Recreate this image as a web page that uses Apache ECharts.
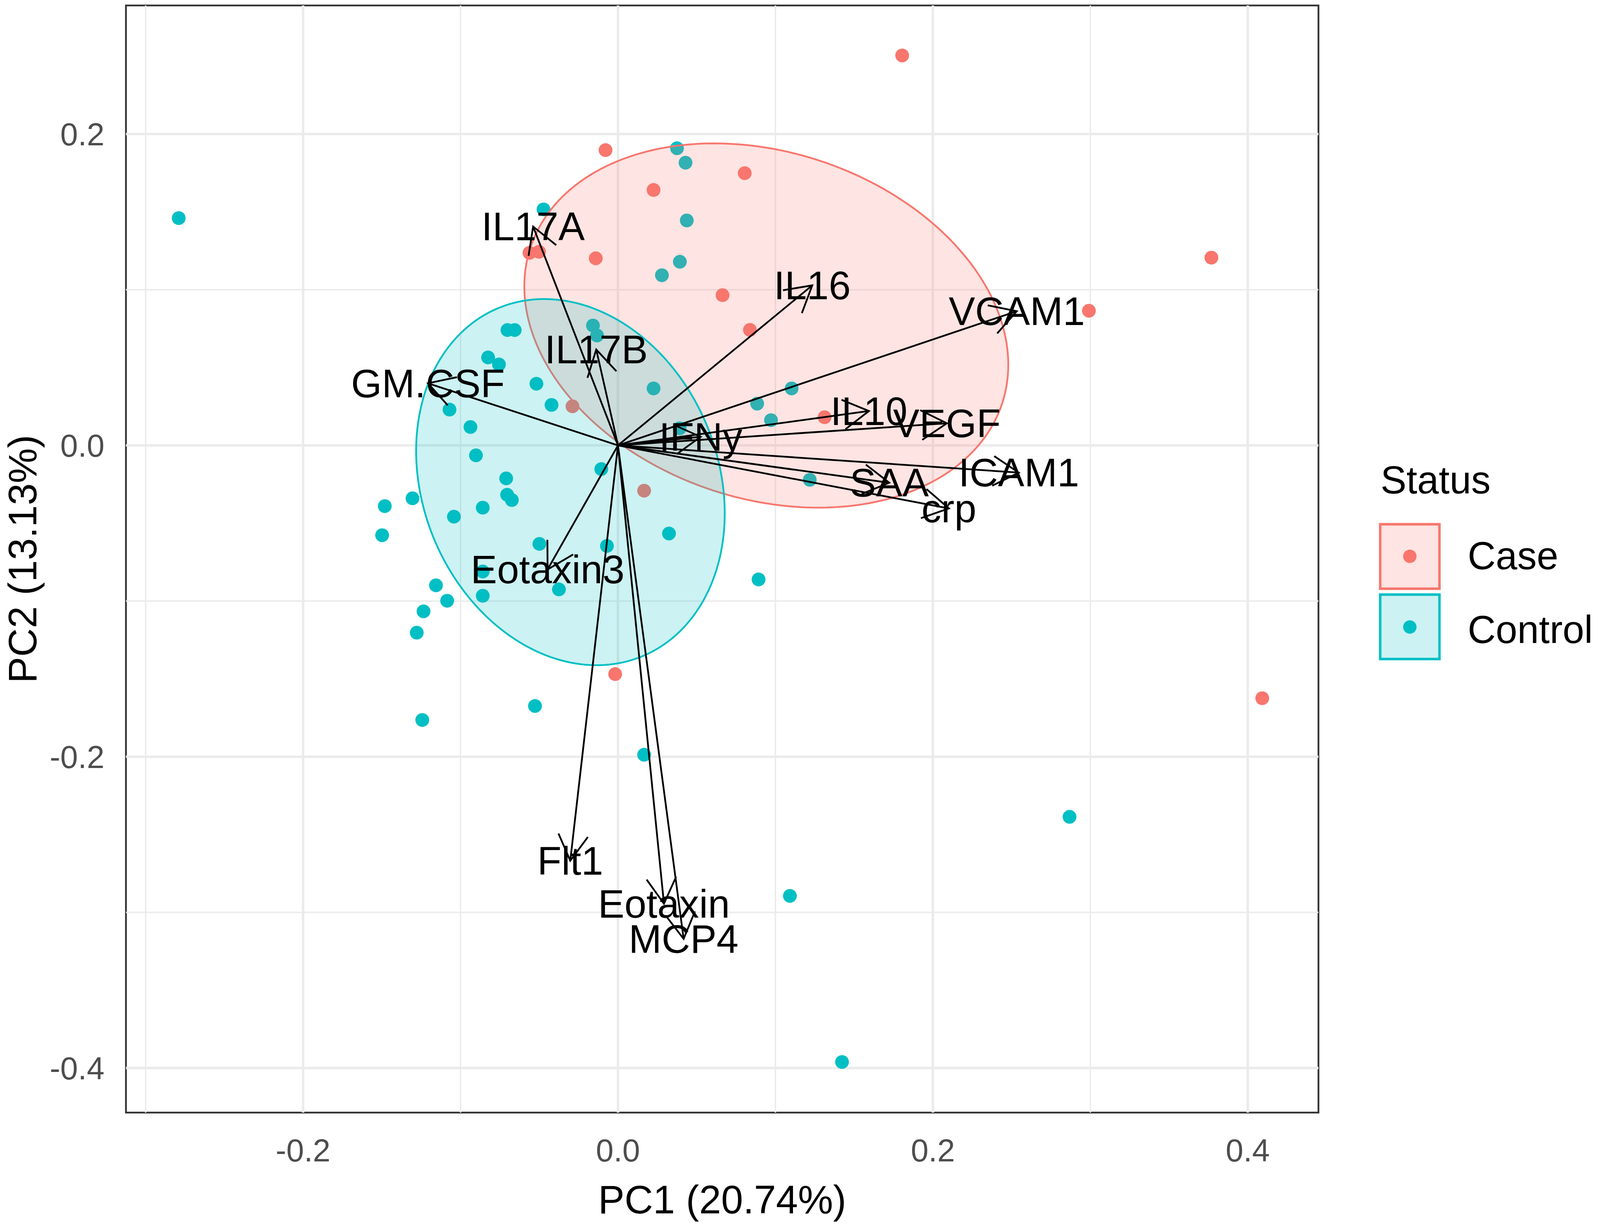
<!DOCTYPE html>
<html>
<head>
<meta charset="utf-8">
<title>PCA biplot</title>
<style>
html, body { margin: 0; padding: 0; background: #fff; overflow: hidden; }
#main { width: 100vw; height: 100vh; }
</style>
</head>
<body>
<div id="main"></div>
<script src="https://cdn.jsdelivr.net/npm/echarts@6/dist/echarts.min.js"></script>
<script>
// sample scores
var caseX = [0.1805, -0.0079, 0.0805, 0.0226, -0.0562, -0.0502, -0.0141, 0.0664, 0.0838, 0.3769, 0.2991, -0.0289, 0.1312, 0.0166, -0.0018, 0.4092];
var caseY = [0.2505, 0.1897, 0.1749, 0.1641, 0.1237, 0.1244, 0.1202, 0.0965, 0.0742, 0.1206, 0.0865, 0.0251, 0.0181, -0.0291, -0.1469, -0.1624];

var controlX = [-0.2790, 0.0375, 0.0429, -0.0473, 0.0437, 0.0393, 0.0279, -0.0702, -0.0656, -0.0159,
  -0.0133, -0.0825, -0.0756, -0.0518, -0.0422, 0.0226, 0.1103, 0.0884, 0.0972, 0.0392,
  -0.1070, -0.0937, -0.0902, -0.0106, -0.0710, 0.1218, -0.0704, -0.0674, -0.1305, -0.0859,
  -0.1481, -0.1042, 0.0324, -0.1498, -0.0499, -0.0070, -0.0859, 0.0893, -0.1156, -0.0375,
  -0.0859, -0.1085, -0.1235, -0.1278, -0.0527, -0.1243, 0.0166, 0.2868, 0.1092, 0.1423];
var controlY = [0.1460, 0.1909, 0.1816, 0.1516, 0.1445, 0.1180, 0.1093, 0.0741, 0.0741, 0.0770,
  0.0706, 0.0565, 0.0520, 0.0396, 0.0260, 0.0366, 0.0366, 0.0268, 0.0162, 0.0110,
  0.0230, 0.0118, -0.0064, -0.0152, -0.0212, -0.0221, -0.0317, -0.0351, -0.0340, -0.0400,
  -0.0390, -0.0458, -0.0566, -0.0577, -0.0633, -0.0646, -0.0810, -0.0861, -0.0899, -0.0925,
  -0.0966, -0.0998, -0.1066, -0.1203, -0.1674, -0.1764, -0.1987, -0.2386, -0.2894, -0.3961];

// loading arrows (tips) and their names
var varNames = ['IL17A', 'IL17B', 'GM.CSF', 'IL16', 'VCAM1', 'IL10', 'VEGF', 'IFNy', 'ICAM1', 'SAA', 'crp', 'Eotaxin3', 'Flt1', 'Eotaxin', 'MCP4'];
var varX = [-0.0539, -0.0138, -0.1207, 0.1234, 0.2533, 0.1594, 0.2089, 0.0525, 0.2546, 0.1723, 0.2102, -0.0447, -0.0303, 0.0292, 0.0417];
var varY = [0.1406, 0.0616, 0.0399, 0.1028, 0.0862, 0.0221, 0.0142, 0.0055, -0.0175, -0.0240, -0.0405, -0.0797, -0.2668, -0.2944, -0.3170];

// group ellipses: centre, half extents and correlation
var groups = ['Case', 'Control'];
var groupColors = ['#F8766D', '#00BFC4'];
var groupFills = ['rgba(248,118,109,0.2)', 'rgba(0,191,196,0.2)'];
var ellCx = [0.0942, -0.0302];
var ellCy = [0.0770, -0.0236];
var ellSx = [0.1537, 0.0980];
var ellSy = [0.1170, 0.1176];
var ellRho = [-0.215, -0.17];

// axis ticks
var xTicks = [-0.2, 0.0, 0.2, 0.4];
var yTicks = [-0.4, -0.2, 0.0, 0.2];
var xMinor = [-0.3, -0.1, 0.1, 0.3];
var yMinor = [-0.3, -0.1, 0.1];

var font = '"Liberation Sans", Arial, sans-serif';

// layout was measured on a 4535 x 3146 canvas; scale to the real viewport
var dom = document.getElementById('main');
var W = dom.clientWidth || window.innerWidth;
var H = dom.clientHeight || window.innerHeight;
var kx = W / 4535, ky = H / 3146, k = Math.min(kx, ky);
function sx(v) { return v * kx; }
function sy(v) { return v * ky; }
function s(v) { return v * k; }

var tickFont = s(90), titleFont = s(112);

function zip(a, b) {
  var out = [];
  for (var i = 0; i < a.length; i++) out.push([a[i], b[i]]);
  return out;
}

function vLines(width) {
  return function (params, api) {
    var cs = params.coordSys;
    var p = api.coord([api.value(0), 0]);
    return { type: 'line', shape: { x1: p[0], y1: cs.y, x2: p[0], y2: cs.y + cs.height },
      style: { stroke: '#EBEBEB', lineWidth: width } };
  };
}
function hLines(width) {
  return function (params, api) {
    var cs = params.coordSys;
    var p = api.coord([0, api.value(0)]);
    return { type: 'line', shape: { x1: cs.x, y1: p[1], x2: cs.x + cs.width, y2: p[1] },
      style: { stroke: '#EBEBEB', lineWidth: width } };
  };
}

var myChart = echarts.init(dom, null, { renderer: 'svg' });

var option = {
  animation: false,
  backgroundColor: '#fff',
  grid: {
    left: sx(357), right: sx(798), top: sy(14), bottom: sy(298),
    show: true, borderColor: '#333333', borderWidth: s(5), backgroundColor: '#fff',
    outerBoundsMode: 'none'
  },
  xAxis: {
    type: 'value', min: -0.3125, max: 0.4449,
    splitLine: { show: false },
    axisLine: { show: false },
    axisTick: { show: true, customValues: xTicks, length: sy(30), lineStyle: { color: '#333333', width: s(5) } },
    axisLabel: { customValues: xTicks, formatter: function (v) { return v.toFixed(1); },
      fontSize: tickFont, color: '#4D4D4D', fontFamily: font, margin: sy(97) - tickFont / 2 },
    name: 'PC1 (20.74%)', nameLocation: 'middle', nameGap: sy(223) - titleFont / 2,
    nameTextStyle: { fontSize: titleFont, color: '#000', fontFamily: font }
  },
  yAxis: {
    type: 'value', min: -0.4286, max: 0.2826,
    splitLine: { show: false },
    axisLine: { show: false },
    axisTick: { show: true, customValues: yTicks, length: sx(30), lineStyle: { color: '#333333', width: s(5) } },
    axisLabel: { customValues: yTicks, formatter: function (v) { return v.toFixed(1); },
      fontSize: tickFont, color: '#4D4D4D', fontFamily: font, margin: sx(61) },
    name: 'PC2 (13.13%)', nameLocation: 'middle', nameGap: sx(293) - titleFont / 2,
    nameTextStyle: { fontSize: titleFont, color: '#000', fontFamily: font }
  },
  series: [
    { type: 'custom', z: 1, silent: true, data: xMinor.map(function (v) { return [v]; }), renderItem: vLines(s(4)) },
    { type: 'custom', z: 1, silent: true, data: yMinor.map(function (v) { return [v]; }), renderItem: hLines(s(4)) },
    { type: 'custom', z: 1, silent: true, data: xTicks.map(function (v) { return [v]; }), renderItem: vLines(s(7)) },
    { type: 'custom', z: 1, silent: true, data: yTicks.map(function (v) { return [v]; }), renderItem: hLines(s(7)) },
    {
      name: 'Case', type: 'scatter', z: 2, symbolSize: s(39),
      itemStyle: { color: groupColors[0], opacity: 1 },
      data: zip(caseX, caseY)
    },
    {
      name: 'Control', type: 'scatter', z: 2, symbolSize: s(39),
      itemStyle: { color: groupColors[1], opacity: 1 },
      data: zip(controlX, controlY)
    },
    {
      // normal-theory ellipses, drawn over the points
      type: 'custom', z: 3, silent: true,
      data: groups.map(function (g, i) { return [ellCx[i], ellCy[i], ellSx[i], ellSy[i], ellRho[i], i]; }),
      renderItem: function (params, api) {
        var cx = api.value(0), cy = api.value(1), ax = api.value(2), ay = api.value(3), r = api.value(4);
        var gi = api.value(5);
        var q = Math.sqrt(1 - r * r);
        var pts = [];
        for (var j = 0; j < 200; j++) {
          var t = j / 200 * 2 * Math.PI;
          pts.push(api.coord([cx + ax * Math.cos(t), cy + ay * (r * Math.cos(t) + q * Math.sin(t))]));
        }
        return { type: 'polygon', shape: { points: pts },
          style: { fill: groupFills[gi], stroke: groupColors[gi], lineWidth: s(5) } };
      }
    },
    {
      type: 'custom', z: 4, silent: true,
      data: zip(varX, varY),
      renderItem: function (params, api) {
        var o = api.coord([0, 0]);
        var t = api.coord([api.value(0), api.value(1)]);
        var ang = Math.atan2(o[1] - t[1], o[0] - t[0]);
        var L = s(84), a = Math.PI / 6;
        var h1 = [t[0] + L * Math.cos(ang + a), t[1] + L * Math.sin(ang + a)];
        var h2 = [t[0] + L * Math.cos(ang - a), t[1] + L * Math.sin(ang - a)];
        return { type: 'group', children: [
          { type: 'line', shape: { x1: o[0], y1: o[1], x2: t[0], y2: t[1] }, style: { stroke: '#000', lineWidth: s(5) } },
          { type: 'polyline', shape: { points: [h1, t, h2] }, style: { stroke: '#000', lineWidth: s(5), fill: null } }
        ] };
      }
    },
    {
      type: 'custom', z: 5, silent: true,
      data: zip(varX, varY),
      renderItem: function (params, api) {
        var t = api.coord([api.value(0), api.value(1)]);
        return { type: 'text', x: t[0], y: t[1],
          style: { text: varNames[params.dataIndex], fontSize: titleFont, fontFamily: font, fill: '#000',
            align: 'center', verticalAlign: 'middle' } };
      }
    }
  ],
  graphic: [
    { type: 'text', x: sx(3913), y: sy(1228), style: { text: 'Status', fontSize: s(110), fontFamily: font, fill: '#000', verticalAlign: 'middle' } },
    { type: 'rect', shape: { x: sx(3912), y: sy(1342), width: sx(168), height: sy(165) },
      style: { fill: groupFills[0], stroke: groupColors[0], lineWidth: s(7) } },
    { type: 'circle', shape: { cx: sx(3996), cy: sy(1424), r: s(19) }, style: { fill: groupColors[0] } },
    { type: 'text', x: sx(4160), y: sy(1422), style: { text: 'Case', fontSize: s(110), fontFamily: font, fill: '#000', verticalAlign: 'middle' } },
    { type: 'rect', shape: { x: sx(3912), y: sy(1522), width: sx(168), height: sy(165) },
      style: { fill: groupFills[1], stroke: groupColors[1], lineWidth: s(7) } },
    { type: 'circle', shape: { cx: sx(3996), cy: sy(1605), r: s(19) }, style: { fill: groupColors[1] } },
    { type: 'text', x: sx(4160), y: sy(1611), style: { text: 'Control', fontSize: s(110), fontFamily: font, fill: '#000', verticalAlign: 'middle' } }
  ]
};

myChart.setOption(option);
</script>
</body>
</html>
